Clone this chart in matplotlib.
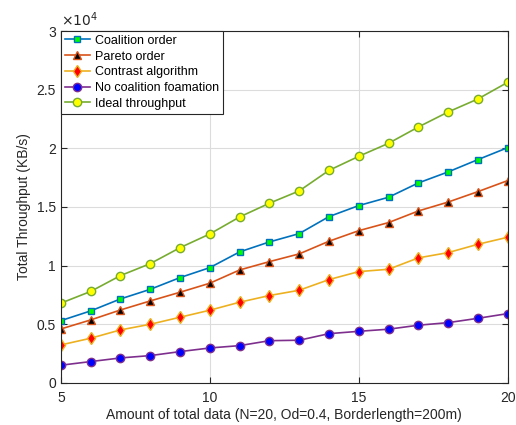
import matplotlib.pyplot as plt

plt.rcParams['font.family'] = ['Liberation Sans', 'DejaVu Sans']

# data (throughput in units of 1e4 KB/s)
x = list(range(5, 21))
coalition = [0.531, 0.614, 0.716, 0.798, 0.898, 0.983, 1.117, 1.202, 1.273, 1.418,
             1.512, 1.583, 1.705, 1.799, 1.904, 2.006]
pareto = [0.46, 0.537, 0.622, 0.699, 0.773, 0.85, 0.963, 1.034, 1.1, 1.208,
          1.298, 1.367, 1.466, 1.542, 1.631, 1.725]
contrast = [0.324, 0.381, 0.452, 0.5, 0.56, 0.62, 0.688, 0.745, 0.79, 0.881,
            0.949, 0.969, 1.066, 1.111, 1.182, 1.242]
no_coalition = [0.151, 0.182, 0.213, 0.233, 0.267, 0.298, 0.318, 0.36, 0.364, 0.42,
                0.44, 0.458, 0.492, 0.514, 0.551, 0.591]
ideal = [0.68, 0.78, 0.915, 1.017, 1.153, 1.27, 1.415, 1.532, 1.637, 1.812,
         1.932, 2.043, 2.182, 2.31, 2.421, 2.563]

fig = plt.figure(figsize=(5.16, 4.25), dpi=100)
ax = fig.add_axes([0.118, 0.099, 0.866, 0.828])

ax.plot(x, coalition, '-s', color='#0072BD', mfc='#00FF00', mec='#0072BD', ms=5, lw=1.2, label='Coalition order')
ax.plot(x, pareto, '-^', color='#D95319', mfc='black', mec='#D95319', ms=6, lw=1.2, label='Pareto order')
ax.plot(x, contrast, '-d', color='#EDB120', mfc='red', mec='#EDB120', ms=6, lw=1.2, label='Contrast algorithm')
ax.plot(x, no_coalition, '-o', color='#7E2F8E', mfc='blue', mec='#7E2F8E', ms=6, lw=1.2, label='No coalition foamation')
ax.plot(x, ideal, '-o', color='#77AC30', mfc='yellow', mec='#77AC30', ms=6, lw=1.2, label='Ideal throughput')

ax.set_xlim(5, 20)
ax.set_ylim(0, 3)
ax.set_xticks([5, 10, 15, 20])
ax.set_yticks([0, 0.5, 1, 1.5, 2, 2.5, 3])
ax.set_yticklabels(['0', '0.5', '1', '1.5', '2', '2.5', '3'])
ax.tick_params(direction='in', top=True, right=True, labelsize=10, colors='#262626', length=4)
ax.tick_params(axis='x', pad=6)
for s in ax.spines.values():
    s.set_color('#262626')
    s.set_linewidth(0.8)
ax.grid(True, color='#dcdcdc', linewidth=0.8)
ax.set_axisbelow(True)

ax.set_xlabel('Amount of total data (N=20, Od=0.4, Borderlength=200m)', fontsize=10, color='#262626', labelpad=2)
ax.set_ylabel('Total Throughput (KB/s)', fontsize=10, color='#262626')
ax.text(0.0, 1.005, r'$\times10^4$', transform=ax.transAxes, fontsize=10, color='#262626', va='bottom')

leg = ax.legend(loc='upper left', borderaxespad=0, fancybox=False, edgecolor='#262626',
                framealpha=1, fontsize=9, handlelength=2.0, handletextpad=0.4,
                labelspacing=0.3, borderpad=0.3)
leg.get_frame().set_linewidth(0.8)

plt.savefig('out.png')
